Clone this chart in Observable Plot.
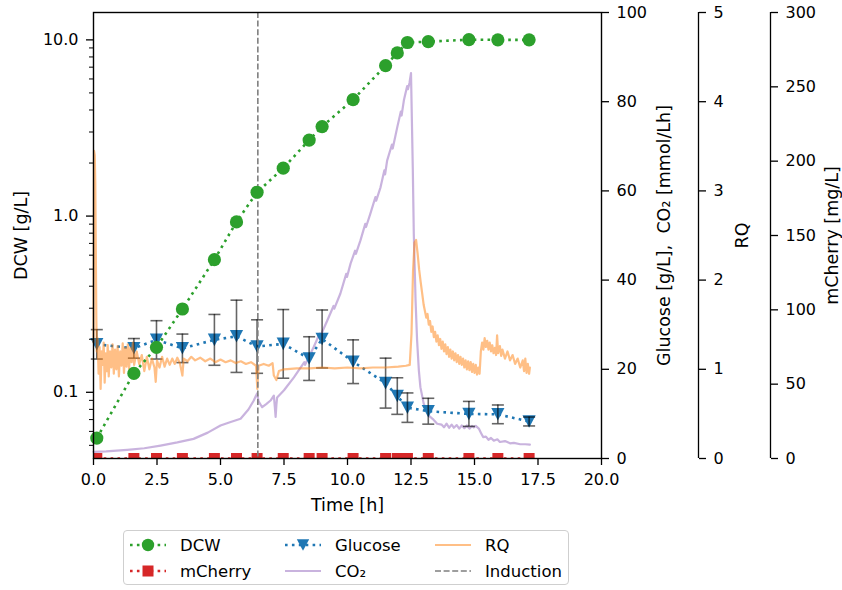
<!DOCTYPE html>
<html><head><meta charset="utf-8">
<script src="https://cdn.jsdelivr.net/npm/d3@7"></script>
<script src="https://cdn.jsdelivr.net/npm/@observablehq/plot@0.6"></script>
<style>
body{margin:0;background:#fff;font-family:"DejaVu Sans",sans-serif;}
#wrap{position:relative;width:842px;height:590px;overflow:hidden;}
#wrap > svg, #wrap > div{position:absolute;left:0;top:0;}
#legend{left:123px !important;top:530px !important;width:446px;height:55px;border:1px solid #cfcfcf;border-radius:4px;box-sizing:border-box;background:#fff;}
</style></head><body><div id="wrap"></div>
<script>
// ---- data ----
const sampleTimes = [0.13, 1.59, 2.48, 3.50, 4.76, 5.63, 6.44, 7.47, 8.49, 9.00, 10.22, 11.50, 11.96, 12.36, 13.18, 14.78, 15.92, 17.15];
const dcwValues = [0.055, 0.128, 0.18, 0.297, 0.566, 0.927, 1.365, 1.87, 2.70, 3.22, 4.58, 7.14, 8.43, 9.66, 9.77, 10.03, 10.0, 10.0];
const glucoseValues = [25.6, 24.7, 26.6, 24.7, 26.6, 27.4, 25.1, 25.7, 22.4, 26.8, 21.7, 16.9, 14.0, 11.4, 10.6, 10.0, 9.9, 8.3];
const glucoseErrors = [3.3, 2.2, 4.3, 3.2, 5.7, 8.1, 6.0, 7.7, 4.9, 6.5, 4.9, 5.6, 4.1, 3.3, 2.9, 2.8, 2.1, 1.0];
const mCherryValues = [0, 0, 0, 0, 0, 0, 0, 0, 0, 0, 0, 0, 0, 0, 0, 0, 0, 0];
const inductionTime = [6.47];
const co2Series = [[0,1.5],[0.5,1.6],[1.33,1.95],[2.0,2.3],[2.64,2.9],[3.3,3.6],[3.94,4.4],[4.5,5.8],[5.0,7.4],[5.4,8.2],[5.79,8.9],[6.1,11.0],[6.31,13],[6.44,14.6],[6.5,12.8],[6.64,11.5],[6.8,12.2],[6.97,13.0],[7.1,14.1],[7.14,11.5],[7.17,9.3],[7.2,12.0],[7.23,13.7],[7.5,15.3],[7.89,18.2],[8.3,21.6],[8.33,21.0],[8.67,25],[8.9,28.0],[8.93,27.4],[9.2,30.9],[9.45,34.2],[9.48,33.6],[9.72,37],[9.95,41.4],[9.98,40.7],[10.12,43.7],[10.3,46.6],[10.33,45.9],[10.51,48.9],[10.7,52.6],[10.73,51.9],[10.9,54.9],[11.1,58.6],[11.13,57.8],[11.3,60.8],[11.45,64.6],[11.48,63.7],[11.56,66.8],[11.75,70.4],[11.78,69.5],[11.96,74.3],[12.1,77.8],[12.13,76.9],[12.22,80.3],[12.35,83.5],[12.38,82.8],[12.44,84.2],[12.5,86.4],[12.57,65.3],[12.61,50.4],[12.68,35.4],[12.74,26.5],[12.81,19.7],[12.87,16],[13.0,12.3],[13.2,9.6],[13.35,8.9],[13.53,7.8],[13.7,7.6],[13.8,7.0],[13.9,7.8],[14.0,6.9],[14.1,7.6],[14.19,6.9],[14.3,7.5],[14.4,6.7],[14.5,7.4],[14.6,6.8],[14.7,7.4],[14.8,6.7],[14.9,7.3],[14.97,7.0],[15.05,7.3],[15.17,6.7],[15.25,5.8],[15.34,4.8],[15.45,4.9],[15.55,4.2],[15.65,4.6],[15.76,4.0],[15.9,4.3],[16.0,3.7],[16.2,3.9],[16.4,3.4],[16.55,3.5],[16.8,3.2],[17.0,3.2],[17.18,3.1]];
const rqSeries = [[0,1.3],[0.02,3.45],[0.05,3.4],[0.07,3.1],[0.09,2.4],[0.11,1.6],[0.13,1.2],[0.16,1.35],[0.2,0.95],[0.24,1.25],[0.28,0.78],[0.32,1.2],[0.36,1.05],[0.4,1.3],[0.44,0.85],[0.48,1.18],[0.52,0.98],[0.56,1.27],[0.6,0.92],[0.65,1.2],[0.7,1.02],[0.75,1.28],[0.8,0.95],[0.85,1.22],[0.9,1.0],[0.95,1.26],[1.0,0.92],[1.05,1.2],[1.1,1.04],[1.15,1.29],[1.2,0.96],[1.25,1.24],[1.3,1.03],[1.35,1.28],[1.4,1.0],[1.45,1.24],[1.5,1.08],[1.55,1.3],[1.6,1.05],[1.7,1.2],[1.8,1.06],[1.9,1.16],[2.0,0.98],[2.1,1.14],[2.2,1.0],[2.3,1.12],[2.4,1.02],[2.45,0.86],[2.5,1.1],[2.6,1.02],[2.7,1.14],[2.8,1.03],[2.9,1.12],[3.0,1.05],[3.1,1.12],[3.2,1.06],[3.3,1.13],[3.4,1.07],[3.5,0.93],[3.55,1.12],[3.7,1.09],[3.85,1.14],[4.0,1.1],[4.2,1.13],[4.4,1.09],[4.6,1.12],[4.8,1.08],[5.0,1.11],[5.2,1.08],[5.4,1.1],[5.6,1.07],[5.8,1.09],[6.0,1.06],[6.2,1.08],[6.4,1.04],[6.45,0.78],[6.5,1.04],[6.7,1.06],[6.9,1.04],[7.05,1.07],[7.1,0.93],[7.2,0.88],[7.3,0.98],[7.5,1.0],[8.0,1.01],[8.5,1.01],[9.0,1.02],[9.5,1.01],[10.0,1.02],[10.5,1.01],[11.0,1.02],[11.5,1.02],[12.0,1.03],[12.3,1.04],[12.45,1.05],[12.52,1.4],[12.58,2.1],[12.64,2.42],[12.7,2.45],[12.76,2.3],[12.82,2.12],[12.88,1.98],[12.94,1.85],[13.0,1.72],[13.05,1.65],[13.1,1.58],[13.15,1.62],[13.2,1.5],[13.25,1.54],[13.3,1.42],[13.35,1.48],[13.4,1.36],[13.45,1.42],[13.5,1.31],[13.55,1.38],[13.6,1.27],[13.65,1.34],[13.7,1.23],[13.75,1.31],[13.8,1.2],[13.85,1.28],[13.9,1.17],[13.95,1.25],[14.0,1.14],[14.05,1.22],[14.1,1.12],[14.15,1.2],[14.2,1.1],[14.25,1.18],[14.3,1.08],[14.35,1.16],[14.4,1.06],[14.45,1.14],[14.5,1.05],[14.55,1.12],[14.6,1.02],[14.65,1.1],[14.7,1.0],[14.75,1.09],[14.8,0.99],[14.85,1.08],[14.9,0.97],[14.95,1.06],[15.0,0.96],[15.05,1.05],[15.1,0.94],[15.15,1.02],[15.2,0.95],[15.25,1.2],[15.3,1.3],[15.35,1.22],[15.4,1.35],[15.45,1.25],[15.5,1.32],[15.55,1.22],[15.6,1.3],[15.65,1.2],[15.7,1.27],[15.75,1.18],[15.8,1.24],[15.85,1.16],[15.89,1.38],[15.93,1.18],[16.0,1.26],[16.05,1.15],[16.1,1.22],[16.2,1.12],[16.3,1.2],[16.4,1.1],[16.5,1.16],[16.6,1.06],[16.7,1.12],[16.8,1.02],[16.9,1.1],[16.95,0.98],[17.0,1.12],[17.05,0.96],[17.1,1.06],[17.15,0.95],[17.18,1.02]];
const xTicks = [0, 2.5, 5, 7.5, 10, 12.5, 15, 17.5, 20];
const dcwTicks = [0.1, 1, 10];
const dcwMinorTicks = [0.05,0.06,0.07,0.08,0.09,0.2,0.3,0.4,0.5,0.6,0.7,0.8,0.9,2,3,4,5,6,7,8,9];
const glucoseTicks = [0, 20, 40, 60, 80, 100];
const rqTicks = [0, 1, 2, 3, 4, 5];
const mCherryTicks = [0, 50, 100, 150, 200, 250, 300];
const labels = {x: "Time [h]", dcw: "DCW [g/L]", glucose: "Glucose [g/L],  CO\u2082 [mmol/Lh]", rq: "RQ", mcherry: "mCherry [mg/L]"};

// ---- tables built from the arrays ----
const samples = sampleTimes.map((t, i) => ({t, dcw: dcwValues[i], glc: glucoseValues[i], err: glucoseErrors[i], mch: mCherryValues[i]}));
const co2 = co2Series.map(([t, v]) => ({t, v}));
const rq = rqSeries.map(([t, v]) => ({t, v}));

const C = {green: "#2ca02c", red: "#d62728", blue: "#1f77b4", purple: "#9467bd", orange: "#ff7f0e"};
const FONT = "'DejaVu Sans', sans-serif";
const base = {width: 842, height: 522, marginTop: 12, marginBottom: 64, marginLeft: 93,
  style: {background: "transparent", fontFamily: FONT, fontSize: "16px", color: "black", overflow: "visible"}};
const MR = 241;
const dots = "2.6,4.3";
const dotted = {strokeWidth: 2.6, strokeDasharray: dots, strokeLinecap: "butt"};
const intFmt = d3.format("d");

const triDown = {draw(ctx, size) { const r = Math.sqrt(size / Math.PI); ctx.moveTo(-r, -r * 0.95); ctx.lineTo(r, -r * 0.95); ctx.lineTo(0, r * 0.95); ctx.closePath(); }};
const capSym = {draw(ctx, size) { const r = Math.sqrt(size / Math.PI); ctx.moveTo(-r, 0); ctx.lineTo(r, 0); }};

const axisStyle = {tickSize: 7, tickPadding: 8, strokeWidth: 1.3, label: null};
const labelStyle = {text: d => d, rotate: -90, fontSize: 17.5, textAnchor: "middle", lineAnchor: "middle"};

// Layer 1: glucose & CO2
const glcPlot = Plot.plot({...base, marginRight: MR,
  x: {domain: [0, 20], axis: null}, y: {domain: [0, 100]},
  marks: [
    Plot.line(co2, {x: "t", y: "v", stroke: C.purple, strokeOpacity: 0.5, strokeWidth: 2.2}),
    Plot.line(samples, {x: "t", y: "glc", stroke: C.blue, ...dotted}),
    Plot.dot(samples, {x: "t", y: "glc", symbol: triDown, r: 6.6, fill: C.blue, stroke: "none"}),
    Plot.ruleX(samples, {x: "t", y1: d => d.glc - d.err, y2: d => d.glc + d.err, stroke: "black", strokeOpacity: 0.6, strokeWidth: 1.6}),
    Plot.dot(samples, {x: "t", y: d => d.glc - d.err, symbol: capSym, r: 6, stroke: "black", strokeOpacity: 0.6, strokeWidth: 1.6, fill: "none"}),
    Plot.dot(samples, {x: "t", y: d => d.glc + d.err, symbol: capSym, r: 6, stroke: "black", strokeOpacity: 0.6, strokeWidth: 1.6, fill: "none"}),
    Plot.axisY({anchor: "right", ticks: glucoseTicks, tickFormat: intFmt, ...axisStyle}),
    Plot.text([labels.glucose], {...labelStyle, frameAnchor: "right", dx: 63})
  ]});

// Layer 2: RQ
const rqPlot = Plot.plot({...base, marginRight: MR,
  x: {domain: [0, 20], axis: null}, y: {domain: [0, 5], axis: null},
  marks: [Plot.line(rq, {x: "t", y: "v", stroke: C.orange, strokeOpacity: 0.5, strokeWidth: 2.2})]});
const rqAxis = Plot.plot({...base, marginRight: 144,
  x: {domain: [0, 1], axis: null}, y: {domain: [0, 5]},
  marks: [
    Plot.ruleX([1], {stroke: "black", strokeWidth: 1.3}),
    Plot.axisY({anchor: "right", ticks: rqTicks, tickFormat: intFmt, ...axisStyle}),
    Plot.text([labels.rq], {...labelStyle, frameAnchor: "right", dx: 44})
  ]});

// Layer 3: mCherry
const mchPlot = Plot.plot({...base, marginRight: MR,
  x: {domain: [0, 20], axis: null}, y: {domain: [0, 300], axis: null},
  marks: [
    Plot.line(samples, {x: "t", y: "mch", stroke: C.red, ...dotted, clip: true}),
    Plot.dot(samples, {x: "t", y: "mch", symbol: "square", r: 6.2, fill: C.red, stroke: "none", clip: true})
  ]});
const mchAxis = Plot.plot({...base, marginRight: 72,
  x: {domain: [0, 1], axis: null}, y: {domain: [0, 300]},
  marks: [
    Plot.ruleX([1], {stroke: "black", strokeWidth: 1.3}),
    Plot.axisY({anchor: "right", ticks: mCherryTicks, tickFormat: intFmt, ...axisStyle}),
    Plot.text([labels.mcherry], {...labelStyle, frameAnchor: "right", dx: 62})
  ]});

// Layer 4 (top): DCW, frame, x axis
const dcwPlot = Plot.plot({...base, marginRight: MR,
  x: {domain: [0, 20]}, y: {type: "log", domain: [0.0421, 14.3]},
  marks: [
    Plot.ruleX(inductionTime, {stroke: "#7f7f7f", strokeWidth: 1.6, strokeDasharray: "6,2.6"}),
    Plot.line(samples, {x: "t", y: "dcw", stroke: C.green, ...dotted}),
    Plot.dot(samples, {x: "t", y: "dcw", r: 6.6, fill: C.green, stroke: "none"}),
    Plot.axisX({ticks: xTicks, tickFormat: d3.format(".1f"), ...axisStyle}),
    Plot.axisY({ticks: dcwTicks, tickFormat: d3.format(".1f"), ...axisStyle}),
    Plot.axisY({ticks: dcwMinorTicks, tickFormat: () => "", tickSize: 4, strokeWidth: 1, label: null}),
    Plot.frame({stroke: "black", strokeWidth: 1.4}),
    Plot.text([labels.dcw], {...labelStyle, frameAnchor: "left", dx: -72}),
    Plot.text([labels.x], {text: d => d, frameAnchor: "bottom", dy: 47, fontSize: 17.5, textAnchor: "middle", lineAnchor: "middle"})
  ]});

const wrap = document.getElementById("wrap");
[glcPlot, rqPlot, rqAxis, mchPlot, mchAxis, dcwPlot].forEach(p => wrap.appendChild(p));

// Legend
const legendItems = [
  {name: "DCW", color: C.green, kind: "dotmark", marker: "circle", col: 0, row: 0},
  {name: "mCherry", color: C.red, kind: "dotmark", marker: "square", col: 0, row: 1},
  {name: "Glucose", color: C.blue, kind: "dotmark", marker: "tri", col: 1, row: 0},
  {name: "CO\u2082", color: C.purple, kind: "solid", col: 1, row: 1},
  {name: "RQ", color: C.orange, kind: "solid", col: 2, row: 0},
  {name: "Induction", color: "#7f7f7f", kind: "dashed", col: 2, row: 1}
];
const colX = [6, 161, 311];
const rowY = [14, 40];
const ns = "http://www.w3.org/2000/svg";
const lg = document.createElement("div");
lg.id = "legend";
const ls = document.createElementNS(ns, "svg");
ls.setAttribute("width", 446); ls.setAttribute("height", 55);
ls.style.fontFamily = FONT; ls.style.fontSize = "16.5px";
function el(tag, attrs, parent) { const e = document.createElementNS(ns, tag); for (const k in attrs) e.setAttribute(k, attrs[k]); parent.appendChild(e); return e; }
for (const it of legendItems) {
  const x0 = colX[it.col], y = rowY[it.row], x1 = x0 + 36, xm = (x0 + x1) / 2;
  if (it.kind === "dotmark") {
    el("line", {x1: x0, x2: x1, y1: y, y2: y, stroke: it.color, "stroke-width": 2.6, "stroke-dasharray": dots}, ls);
    if (it.marker === "circle") el("circle", {cx: xm, cy: y, r: 6.2, fill: it.color}, ls);
    else if (it.marker === "square") el("rect", {x: xm - 5.5, y: y - 5.5, width: 11, height: 11, fill: it.color}, ls);
    else el("path", {d: `M${xm - 6.2},${y - 5.8}L${xm + 6.2},${y - 5.8}L${xm},${y + 5.8}Z`, fill: it.color}, ls);
  } else if (it.kind === "solid") {
    el("line", {x1: x0, x2: x1, y1: y, y2: y, stroke: it.color, "stroke-opacity": 0.5, "stroke-width": 2.2}, ls);
  } else {
    el("line", {x1: x0, x2: x1, y1: y, y2: y, stroke: it.color, "stroke-width": 1.6, "stroke-dasharray": "6,2.6"}, ls);
  }
  const t = el("text", {x: x1 + 14, y: y, dy: "0.35em", fill: "black"}, ls);
  t.textContent = it.name;
}
lg.appendChild(ls);
wrap.appendChild(lg);
</script></body></html>
